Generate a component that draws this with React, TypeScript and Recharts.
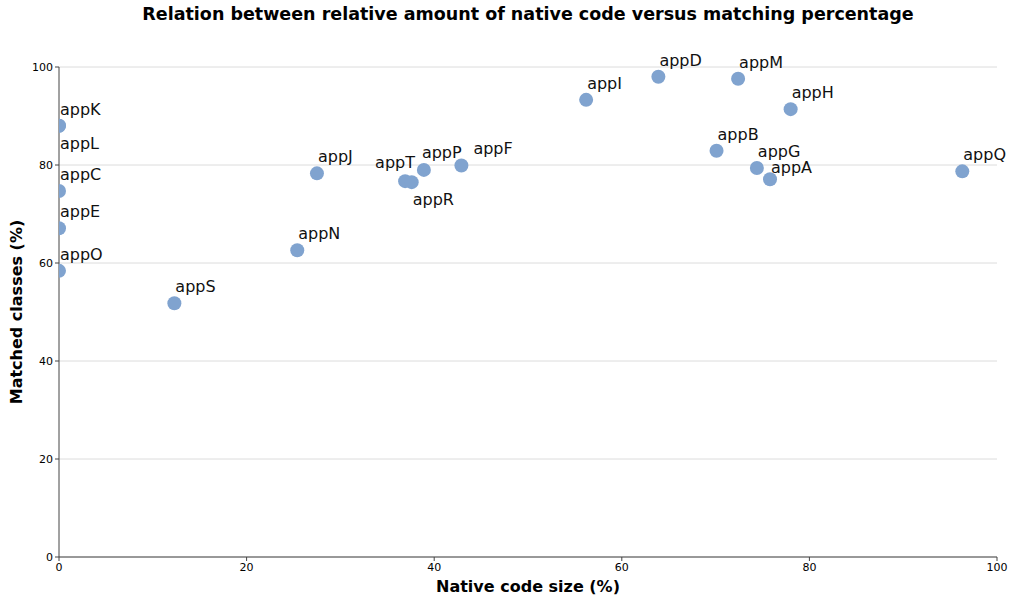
import { ScatterChart, Scatter, XAxis, YAxis, CartesianGrid } from 'recharts';

const APPS = ['appK', 'appL', 'appC', 'appE', 'appO', 'appS', 'appN', 'appJ', 'appT', 'appR', 'appP', 'appF', 'appI', 'appD', 'appM', 'appH', 'appB', 'appG', 'appA', 'appQ'];
const NATIVE_SIZE = [0, 0, 0, 0, 0, 12.3, 25.4, 27.5, 36.9, 37.6, 38.9, 42.9, 56.2, 63.9, 72.4, 78.0, 70.1, 74.4, 75.8, 96.3];
const MATCHED = [88.0, 88.0, 74.7, 67.1, 58.4, 51.8, 62.6, 78.3, 76.7, 76.5, 79.0, 79.9, 93.3, 98.0, 97.6, 91.4, 82.9, 79.4, 77.1, 78.7];
const TICKS = [0, 20, 40, 60, 80, 100];

// label nudges (the original used a text-repel pass)
const LABEL_NUDGE: Record<string, [number, number]> = {
  appL: [1, 23],
  appT: [-30, -13],
  appR: [1, 23],
  appP: [-2, -12],
  appF: [12, -11],
  appA: [1, -6],
};

const data = APPS.map((name, i) => ({ name, x: NATIVE_SIZE[i], y: MATCHED[i] }));

const DOT = '#80a3cf';
const FONT = '"DejaVu Sans", sans-serif';
const R = 7;

// points sitting on x=0 are cut by the axis, like in the original
const Dot = (props: any) => {
  const { cx, cy } = props;
  const xv = props.node?.x ?? props.payload?.x;
  if (xv === 0) {
    return <path d={`M${cx},${cy - R} A${R},${R} 0 0 1 ${cx},${cy + R} Z`} fill={DOT} />;
  }
  return <circle cx={cx} cy={cy} r={R} fill={DOT} />;
};

const Tag = (props: any) => {
  const name = props.payload?.name ?? props.name;
  const [dx, dy] = LABEL_NUDGE[name] ?? [1, -11];
  return (
    <text x={props.cx + dx} y={props.cy + dy} fontSize={16} fontFamily={FONT} fill="#111">
      {name}
    </text>
  );
};

export default function App() {
  return (
    <div style={{ position: 'absolute', left: 0, top: 0, width: 1009, height: 598, background: '#fff' }}>
      <style>{'body{margin:0}'}</style>
      <div
        style={{
          position: 'absolute', left: 0, top: 4, width: 1056, textAlign: 'center',
          fontFamily: FONT, fontWeight: 'bold', fontSize: 17.5, color: '#000',
        }}
      >
        Relation between relative amount of native code versus matching percentage
      </div>
      <ScatterChart width={1009} height={598} margin={{ top: 67, right: 12, left: 0, bottom: 0 }}>
        <CartesianGrid horizontal vertical={false} stroke="#dcdcdc" />
        <XAxis
          xAxisId="a"
          type="number"
          dataKey="x"
          domain={[0, 100]}
          ticks={TICKS}
          height={41}
          stroke="#444"
          tickSize={4}
          tick={{ fill: '#000', fontSize: 11, fontFamily: FONT }}
          label={{ value: 'Native code size (%)', position: 'insideBottom', offset: 6, fill: '#000', fontSize: 16, fontWeight: 'bold', fontFamily: FONT }}
        />
        <XAxis xAxisId="b" type="number" dataKey="x" domain={[0, 100]} hide />
        <YAxis
          type="number"
          dataKey="y"
          domain={[0, 100]}
          ticks={TICKS}
          width={59}
          stroke="#444"
          tickSize={4}
          tick={{ fill: '#000', fontSize: 11, fontFamily: FONT }}
          label={{ value: 'Matched classes (%)', angle: -90, position: 'insideLeft', offset: 16, style: { textAnchor: 'middle' }, fill: '#000', fontSize: 16, fontWeight: 'bold', fontFamily: FONT }}
        />
        <Scatter xAxisId="a" data={data} shape={Dot} isAnimationActive={false} />
        <Scatter xAxisId="b" data={data} shape={Tag} isAnimationActive={false} />
      </ScatterChart>
    </div>
  );
}
